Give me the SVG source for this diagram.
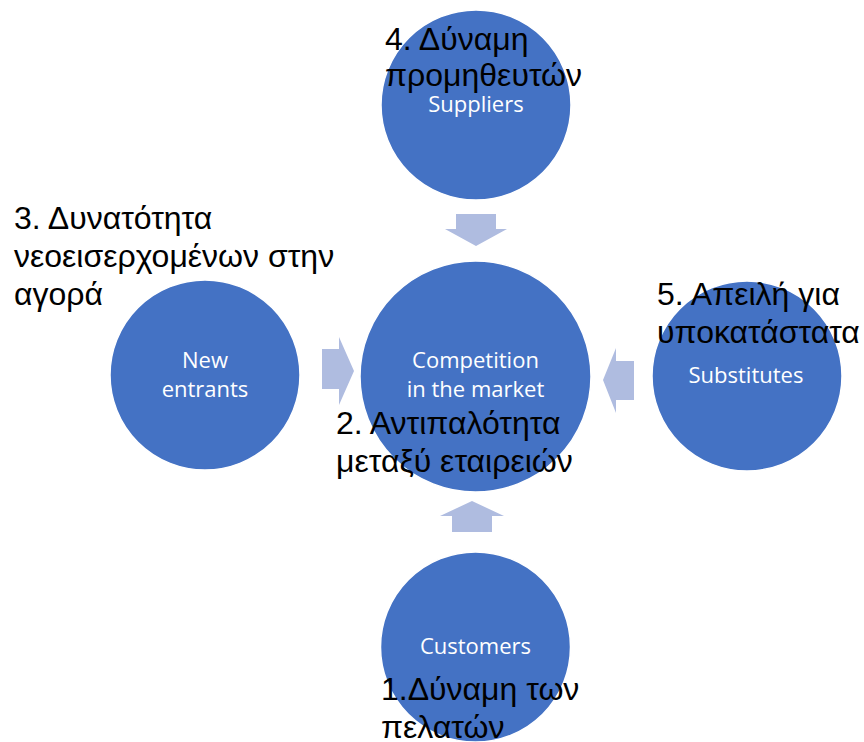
<svg xmlns="http://www.w3.org/2000/svg" width="864" height="742" viewBox="0 0 864 742">
<style>
.node circle{fill:#4472C4;stroke:#ffffff;stroke-width:1.5}
.lbl{fill:#ffffff;font-family:"Open Sans","Liberation Sans",sans-serif;font-size:22px;text-anchor:middle}
.gr{fill:#000000;font-family:"Liberation Sans",Arial,sans-serif;font-size:32px}
.arr{fill:#AFBCE0}
</style>
<rect width="864" height="742" fill="#ffffff"/>
<g id="connectors">
<polygon class="arr" points="456,214 496,214 496,229 507,229 476,246 445,229 456,229"/>
<polygon class="arr" points="452,532 492,532 492,516 504,516 472,501 440,516 452,516"/>
<polygon class="arr" points="322,349 339,349 339,337 354,371 339,405 339,389 322,389"/>
<polygon class="arr" points="634,361 616,361 616,348 603,380 616,413 616,400 634,400"/>
</g>
<g id="suppliers" class="node">
<circle cx="476" cy="105" r="95"/>
<text class="lbl" x="476" y="112">Suppliers</text>
</g>
<g id="competition" class="node">
<circle cx="475.5" cy="376.5" r="115.5"/>
<text class="lbl" x="475.5" y="368">Competition</text>
<text class="lbl" x="475.5" y="397">in the market</text>
</g>
<g id="new-entrants" class="node">
<circle cx="205" cy="375" r="95"/>
<text class="lbl" x="205" y="368">New</text>
<text class="lbl" x="205" y="397">entrants</text>
</g>
<g id="substitutes" class="node">
<circle cx="747" cy="376" r="95"/>
<text class="lbl" x="746" y="383">Substitutes</text>
</g>
<g id="customers" class="node">
<circle cx="475.5" cy="647" r="95"/>
<text class="lbl" x="475.5" y="654">Customers</text>
</g>
<g id="labels">
<text class="gr" x="385" y="50">4. Δύναμη</text>
<text class="gr" x="385" y="86">προμηθευτών</text>
<text class="gr" x="14" y="229">3. Δυνατότητα</text>
<text class="gr" x="14" y="267">νεοεισερχομένων στην</text>
<text class="gr" x="14" y="305">αγορά</text>
<text class="gr" x="657" y="305">5. Απειλή για</text>
<text class="gr" x="657" y="343">υποκατάστατα</text>
<text class="gr" x="336" y="434">2. Αντιπαλότητα</text>
<text class="gr" x="336" y="472">μεταξύ εταιρειών</text>
<text class="gr" x="381" y="700">1.Δύναμη των</text>
<text class="gr" x="381" y="738">πελατών</text>
</g>
</svg>
